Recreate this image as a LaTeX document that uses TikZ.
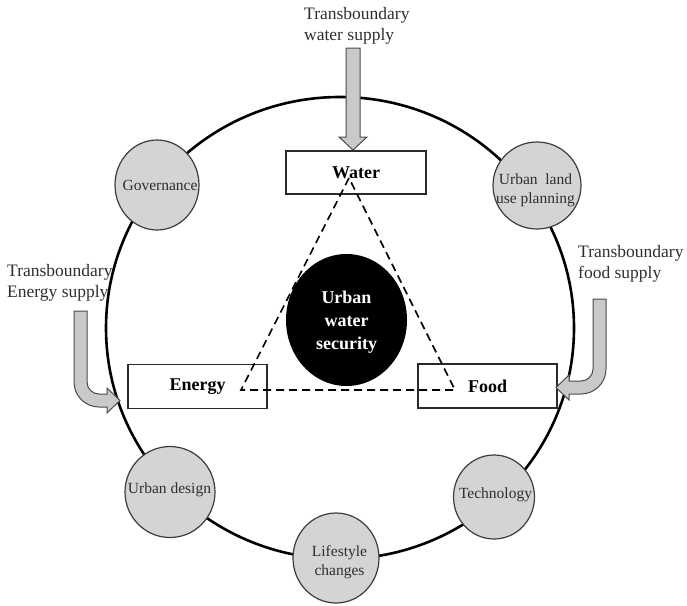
\documentclass[tikz,border=0pt]{standalone}
\usepackage{fontspec}
\setmainfont{Liberation Serif}
\usetikzlibrary{shapes.geometric}

\definecolor{circfill}{HTML}{D4D4D4}
\definecolor{circline}{HTML}{3C3C3C}
\definecolor{arrfill}{HTML}{C9C9C9}
\definecolor{arrline}{HTML}{4A4A4A}
\definecolor{txtgray}{HTML}{2E2E2E}
\definecolor{boxline}{HTML}{2A2A2A}

\tikzset{
  ring/.style={draw=black, ellipse, line width=2.6pt, inner sep=0pt},
  factor/.style={draw=circline, fill=circfill, ellipse, line width=1.2pt, inner sep=0pt},
  factortext/.style={text=txtgray, align=center, inner sep=0pt,
    font=\fontsize{15.5}{19}\selectfont},
  nexusbox/.style={draw=boxline, fill=white, rectangle, line width=1.4pt,
    inner sep=0pt, minimum width=139pt, minimum height=44pt,
    font=\fontsize{18}{22}\selectfont\bfseries},
  core/.style={fill=black, ellipse, inner sep=0pt},
  coretext/.style={text=white, align=center, inner sep=0pt,
    font=\fontsize{18}{23}\selectfont\bfseries},
  nexusline/.style={draw=black, line width=1.6pt, dash pattern=on 8pt off 5pt},
  supply/.style={fill=arrfill, draw=arrline, line width=1pt, line join=miter},
  supplytext/.style={text=txtgray, align=left, inner sep=0pt, anchor=west,
    font=\fontsize{17.5}{21}\selectfont},
}

\begin{document}
\begin{tikzpicture}[x=1pt,y=-1pt]
\useasboundingbox (0,0) rectangle (687,605);

% outer ring
\node[ring, minimum width=468pt, minimum height=462pt] (ring) at (340,328) {};

% enabling factors on the ring
\node[factor, minimum width=84pt, minimum height=90pt] (gov) at (157,185) {};
\node[factortext] (govt) at (160,185) {Governance};
\node[factor, minimum width=88pt, minimum height=87pt] (land) at (537,185.5) {};
\node[factortext] (landt) at (535.5,190.5) {Urban\ \ land\\use planning};
\node[factor, minimum width=90pt, minimum height=91pt] (design) at (170,492) {};
\node[factortext] (designt) at (169.5,490) {Urban design};
\node[factor, minimum width=86pt, minimum height=90pt] (life) at (336,558) {};
\node[factortext] (lifet) at (339.5,562) {Lifestyle\\changes};
\node[factor, minimum width=81pt, minimum height=84pt] (tech) at (494,497) {};
\node[factortext] (techt) at (495.5,495) {Technology};

% nexus sectors
\node[nexusbox, minimum width=140pt, minimum height=43pt] (water) at (356,172.5) {Water};
\node[nexusbox] (energy) at (197.5,386.5) {Energy};
\node[nexusbox] (food) at (487.5,386) {Food};

% core
\node[core, minimum width=121pt, minimum height=132pt] (core) at (346.5,320) {};
\node[coretext] (coret) at (346.5,322) {Urban\\water\\security};

% dashed nexus triangle
\coordinate (tw) at (349,178);
\coordinate (te) at (241,390);
\coordinate (tf) at (455,390);
\draw[nexusline] (tw) -- (te) -- (tf) -- cycle;

% transboundary supply arrows
\coordinate (wtip) at (353,150);
\draw[supply] (wtip) -- (339,137) -- (346,137) -- (346,48) -- (360,48)
  -- (360,137) -- (367,137) -- cycle;

\coordinate (etip) at (120,400.5);
\draw[supply] (etip) -- (107,388) -- (107,394) -- (99,394)
  .. controls (92.4,394) and (87,388.6) .. (87,382) -- (87,311) -- (74,311)
  -- (74,382) .. controls (74,395.8) and (85.2,407) .. (99,407)
  -- (107,407) -- (107,413) -- cycle;

\coordinate (ftip) at (556,387.5);
\draw[supply] (ftip) -- (569,375) -- (569,381) -- (581,381)
  .. controls (587.6,381) and (593,375.6) .. (593,369) -- (593,299) -- (606,299)
  -- (606,369) .. controls (606,382.8) and (594.8,394) .. (581,394)
  -- (569,394) -- (569,400) -- cycle;

% supply labels
\node[supplytext] (wlab) at (304,25.5) {Transboundary\\water supply};
\node[supplytext] (elab) at (7,283) {Transboundary\\Energy supply};
\node[supplytext] (flab) at (578,264) {Transboundary\\food supply};
\end{tikzpicture}
\end{document}
